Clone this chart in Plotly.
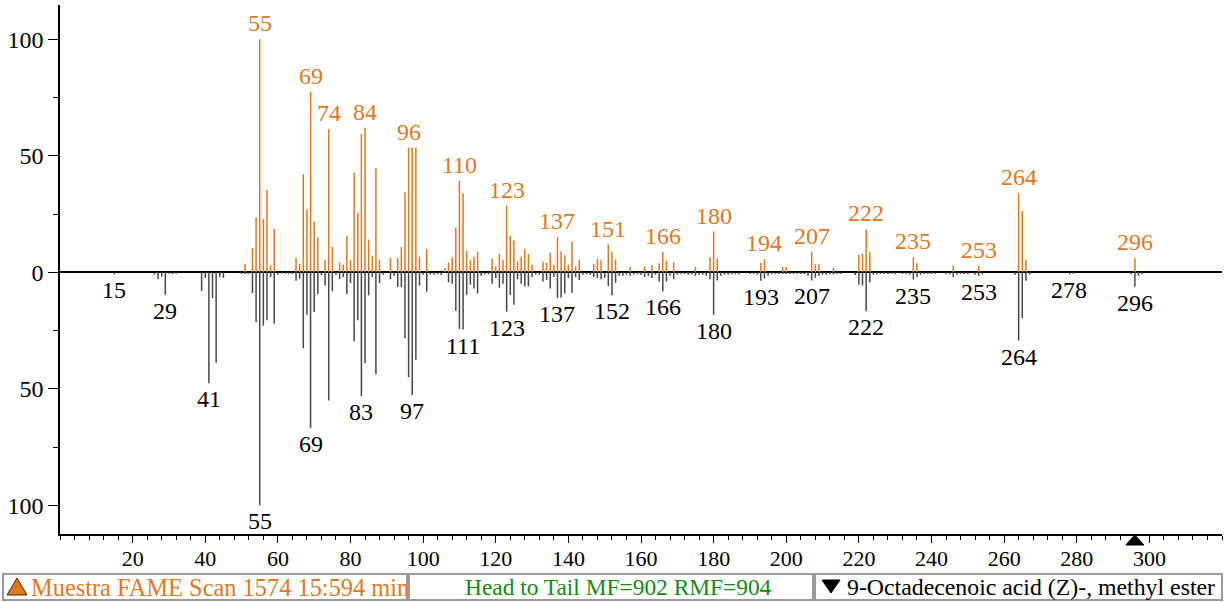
import plotly.graph_objects as go

# ---------------- data ----------------
sample_mz = [51, 53, 54, 55, 56, 57, 58, 59, 65, 66, 67, 68, 69, 70, 71, 73, 74, 75, 77, 78,
             79, 80, 81, 82, 83, 84, 85, 86, 87, 88, 91, 93, 94, 95, 96, 97, 98, 99, 101,
             106, 107, 108, 109, 110, 111, 112, 113, 114, 115, 119, 120, 121, 122, 123, 124,
             125, 126, 127, 128, 129, 130, 133, 134, 135, 136, 137, 138, 139, 140, 141, 142,
             143, 147, 148, 149, 151, 152, 153, 157, 161, 163, 165, 166, 167, 169, 175, 179,
             180, 181, 193, 194, 199, 200, 207, 208, 209, 213, 220, 221, 222, 223, 235, 236,
             246, 253, 264, 265, 266, 296]
sample_int = [3.6, 10.4, 23.4, 100, 22.8, 35.3, 3.0, 18.6, 6.1, 3.5, 42.1, 27.0, 77.5, 21.8, 15.0, 5.2, 61.4, 11.0, 4.2, 3.2,
              15.7, 5.2, 42.7, 25.5, 59.4, 62.0, 14.0, 7.2, 44.7, 5.2, 6.2, 6.2, 10.8, 34.3, 53.5, 53.5, 53.5, 6.6, 9.9,
              2.0, 4.2, 6.3, 19.2, 39.2, 33.9, 9.3, 5.2, 6.7, 8.9, 5.9, 2.6, 7.9, 5.2, 28.6, 15.6,
              13.6, 4.6, 6.7, 9.9, 7.9, 3.2, 4.6, 4.2, 8.3, 3.2, 15.2, 8.9, 7.3, 3.2, 13.2, 2.6,
              5.3, 3.7, 5.9, 5.2, 11.9, 8.8, 5.6, 2.4, 2.4, 3.0, 3.9, 8.7, 5.0, 4.3, 2.4, 6.5,
              17.5, 6.0, 4.0, 5.6, 2.3, 2.3, 8.8, 3.4, 3.4, 2.0, 7.4, 8.0, 18.4, 8.6, 6.4, 3.9,
              2.9, 2.9, 34.0, 26.3, 5.4, 6.0]

lib_mz = [15, 26, 27, 28, 29, 30, 31, 32, 39, 40, 41, 42, 43, 44, 45, 50, 51, 52, 53, 54,
          55, 56, 57, 58, 59, 60, 61, 62, 63, 64, 65, 66, 67, 68, 69, 70, 71, 72, 73, 74,
          75, 76, 77, 78, 79, 80, 81, 82, 83, 84, 85, 86, 87, 88, 89, 91, 92, 93, 94, 95,
          96, 97, 98, 99, 100, 101, 102, 103, 104, 105, 107, 108, 109, 110, 111, 112, 113, 114, 115, 116,
          117, 118, 119, 120, 121, 122, 123, 124, 125, 126, 127, 128, 129, 130, 131, 132, 133, 134, 135, 136,
          137, 138, 139, 140, 141, 142, 143, 144, 145, 146, 147, 148, 149, 150, 151, 152, 153, 154, 155, 156,
          157, 158, 159, 160, 161, 162, 163, 164, 165, 166, 167, 168, 169, 170, 171, 172, 173, 174, 175, 176,
          177, 178, 179, 180, 181, 182, 183, 184, 185, 186, 187, 190, 191, 192, 193, 194, 195, 196, 197, 198,
          199, 200, 201, 202, 203, 204, 205, 206, 207, 208, 209, 210, 211, 212, 213, 214, 215, 219, 220, 221,
          222, 223, 224, 225, 226, 227, 228, 229, 230, 232, 233, 234, 235, 236, 237, 238, 239, 240, 241, 244,
          245, 246, 247, 248, 249, 250, 252, 253, 254, 263, 264, 265, 266, 267, 278, 279, 295, 296, 297, 298]
lib_int = [0.8, 1.0, 3.0, 1.9, 9.7, 0.6, 0.8, 0.6, 8.0, 2.4, 47.6, 11.0, 38.8, 2.0, 2.4, 0.7, 0.8, 0.6, 8.9, 21.3,
           100, 22.9, 20.6, 2.1, 22.0, 1.0, 0.6, 0.6, 0.6, 0.6, 3.6, 2.8, 32.6, 18.2, 66.8, 17.0, 9.3, 1.3, 5.7, 55.0,
           8.1, 1.0, 2.9, 2.0, 9.3, 4.6, 29.6, 20.6, 53.2, 38.9, 9.9, 2.0, 43.8, 4.6, 1.0, 3.0, 1.5, 6.3, 6.3, 28.2,
           45.0, 52.6, 37.5, 5.7, 1.0, 8.3, 1.0, 1.0, 0.8, 1.2, 4.3, 4.9, 16.6, 24.3, 24.6, 9.7, 5.3, 7.0, 9.1, 1.5,
           0.8, 0.8, 4.9, 2.4, 6.6, 4.9, 16.9, 9.7, 13.9, 3.0, 4.9, 6.0, 6.0, 2.0, 1.0, 1.0, 3.9, 3.3, 6.9, 2.0,
           11.0, 10.8, 9.1, 2.5, 8.8, 2.0, 3.3, 1.0, 0.8, 1.0, 2.0, 2.5, 3.0, 2.4, 6.0, 9.8, 4.5, 1.5, 1.5, 1.0,
           1.5, 1.0, 0.8, 1.0, 2.0, 1.5, 2.5, 1.0, 4.0, 8.1, 4.0, 1.5, 3.0, 1.0, 0.8, 0.8, 1.0, 0.8, 1.5, 1.0,
           1.0, 1.5, 3.0, 18.3, 3.5, 1.5, 1.0, 1.0, 0.8, 0.8, 0.8, 0.7, 0.7, 1.0, 3.6, 2.7, 1.5, 0.7, 0.7, 0.7,
           0.7, 0.7, 0.7, 0.7, 0.7, 0.7, 0.7, 1.5, 3.5, 2.3, 1.5, 1.0, 1.0, 0.8, 1.0, 0.7, 0.7, 1.2, 5.3, 5.7,
           16.7, 4.3, 1.0, 0.8, 0.7, 0.7, 0.7, 0.7, 0.8, 0.7, 0.7, 1.0, 3.1, 2.0, 1.0, 0.7, 0.7, 0.7, 0.7, 0.7,
           1.0, 2.1, 1.0, 0.7, 0.7, 0.7, 1.0, 1.5, 0.8, 1.0, 29.3, 19.7, 3.6, 1.0, 0.8, 0.6, 0.8, 6.2, 1.5, 0.8]

sample_labels = [55, 69, 74, 84, 96, 110, 123, 137, 151, 166, 180, 194, 207, 222, 235, 253, 264, 296]
lib_labels = [15, 29, 41, 55, 69, 83, 97, 111, 123, 137, 152, 166, 180, 193, 207, 222, 235, 253, 264, 278, 296]

x_tickvals = [20, 40, 60, 80, 100, 120, 140, 160, 180, 200, 220, 240, 260, 280, 300]
y_tickvals = [-100, -50, 0, 50, 100]
y_ticktext = ["100", "50", "0", "50", "100"]

sample_title = "Muestra FAME Scan 1574 15:594 min"
match_title = "Head to Tail MF=902 RMF=904"
lib_title = "9-Octadecenoic acid (Z)-, methyl ester"
molecular_ion = 296

# ---------------- style ----------------
ORANGE = "#E0781E"
GREEN = "#138A13"
FONT = "'Liberation Serif', 'Times New Roman', Times, serif"
W, H = 1225, 602
L, R, T, B = 60, 3, 5, 68
X_RANGE = [0, 320]
Y_RANGE = [-112.3, 114.7]


def xp(px):
    return (px - L) / (W - L - R)


def yp(py):
    return (H - B - py) / (H - T - B)


def stems(mz, vals, sign):
    xs, ys = [], []
    for m, v in zip(mz, vals):
        xs += [m, m, None]
        ys += [0, sign * v, None]
    return xs, ys


fig = go.Figure()
sx, sy = stems(sample_mz, sample_int, 1)
lx, ly = stems(lib_mz, lib_int, -1)
fig.add_trace(go.Scatter(x=sx, y=sy, mode="lines", line=dict(color=ORANGE, width=1.5),
                         hoverinfo="skip", showlegend=False))
fig.add_trace(go.Scatter(x=lx, y=ly, mode="lines", line=dict(color="#474747", width=1.5),
                         hoverinfo="skip", showlegend=False))

annotations = []
s_lookup = dict(zip(sample_mz, sample_int))
l_lookup = dict(zip(lib_mz, lib_int))
for m in sample_labels:
    annotations.append(dict(x=m, y=s_lookup.get(m, 0), text=str(m), showarrow=False,
                            yanchor="middle", yshift=16,
                            font=dict(family=FONT, size=24, color=ORANGE)))
for m in lib_labels:
    annotations.append(dict(x=m, y=-l_lookup.get(m, 0), text=str(m), showarrow=False,
                            yanchor="middle", yshift=-16,
                            font=dict(family=FONT, size=24, color="black")))

shapes = []
# molecular ion marker just below the x axis
shapes.append(dict(type="path", xref="x", yref="paper", xsizemode="pixel", ysizemode="pixel",
                   xanchor=molecular_ion, yanchor=0,
                   path="M-9,-11 L9,-11 L0,-1 Z", fillcolor="black", line=dict(color="black", width=1)))

# status bar
boxes = [(3, 407), (409, 813), (815, 1222)]
for x0, x1 in boxes:
    shapes.append(dict(type="rect", xref="paper", yref="paper",
                       x0=xp(x0), x1=xp(x1), y0=yp(600), y1=yp(574),
                       line=dict(color="#9a9a9a", width=2), fillcolor="white", layer="above"))
shapes.append(dict(type="path", xref="paper", yref="paper", xsizemode="pixel", ysizemode="pixel",
                   xanchor=xp(17), yanchor=yp(587), layer="above",
                   path="M-10,-8 L10,-8 L0,9 Z", fillcolor=ORANGE, line=dict(color="#3a2a10", width=1)))
shapes.append(dict(type="path", xref="paper", yref="paper", xsizemode="pixel", ysizemode="pixel",
                   xanchor=xp(831), yanchor=yp(586), layer="above",
                   path="M-9,6 L9,6 L0,-7 Z", fillcolor="black", line=dict(color="black", width=1)))

annotations.append(dict(xref="paper", yref="paper", x=xp(29), y=yp(587), xanchor="left",
                        yanchor="middle", text=sample_title, showarrow=False,
                        font=dict(family=FONT, size=24.4, color=ORANGE)))
annotations.append(dict(xref="paper", yref="paper", x=xp(618), y=yp(587), xanchor="center",
                        yanchor="middle", text=match_title, showarrow=False,
                        font=dict(family=FONT, size=23.4, color=GREEN)))
annotations.append(dict(xref="paper", yref="paper", x=xp(845), y=yp(587), xanchor="left",
                        yanchor="middle", text=lib_title, showarrow=False,
                        font=dict(family=FONT, size=23.8, color="black")))

fig.update_layout(
    width=W, height=H,
    margin=dict(l=L, r=R, t=T, b=B, pad=0),
    paper_bgcolor="white", plot_bgcolor="white",
    showlegend=False,
    annotations=annotations,
    shapes=shapes,
    font=dict(family=FONT),
    xaxis=dict(range=X_RANGE, showgrid=False, zeroline=False,
               showline=True, linecolor="black", linewidth=1.5,
               tickmode="array", tickvals=x_tickvals,
               ticks="outside", ticklen=7, tickwidth=1.2, tickcolor="black",
               ticklabelstandoff=-3,
               tickfont=dict(family=FONT, size=22, color="black"),
               minor=dict(tickmode="linear", tick0=0, dtick=4, ticks="outside",
                          ticklen=4, tickwidth=1, tickcolor="black")),
    yaxis=dict(range=Y_RANGE, showgrid=False,
               zeroline=True, zerolinecolor="black", zerolinewidth=1.5,
               showline=True, linecolor="black", linewidth=1.5,
               tickmode="array", tickvals=y_tickvals, ticktext=y_ticktext,
               ticks="outside", ticklen=10, tickwidth=1.2, tickcolor="black",
               tickfont=dict(family=FONT, size=24, color="black"),
               minor=dict(tickmode="linear", tick0=0, dtick=25, ticks="outside",
                          ticklen=5, tickwidth=1, tickcolor="black")),
)

fig.write_html("out.html", config={"displayModeBar": False},
               post_script="document.body.style.margin='0';document.body.style.padding='0';")
